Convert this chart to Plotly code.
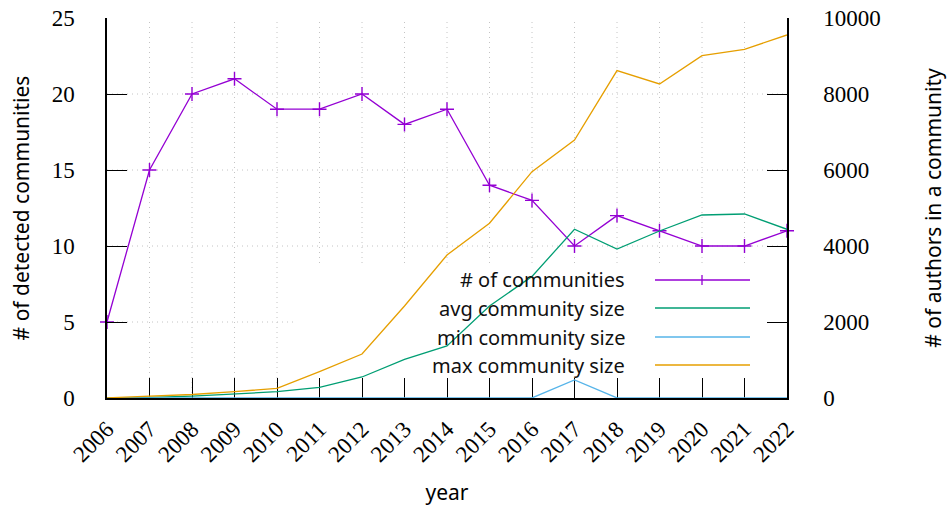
import plotly.graph_objects as go

years = [2006, 2007, 2008, 2009, 2010, 2011, 2012, 2013, 2014, 2015,
         2016, 2017, 2018, 2019, 2020, 2021, 2022]
num_communities = [5, 15, 20, 21, 19, 19, 20, 18, 19, 14, 13, 10, 12, 11, 10, 10, 11]
avg_size = [5, 15, 50, 105, 166, 282, 553, 1018, 1369, 2420, 3200,
            4440, 3920, 4395, 4816, 4842, 4440]
min_size = [1, 1, 1, 1, 1, 1, 1, 1, 1, 1, 1, 475, 1, 1, 1, 1, 1]
max_size = [5, 40, 92, 166, 255, 692, 1158, 2420, 3763, 4598, 5957,
            6790, 8616, 8264, 9010, 9177, 9554]

series_names = ["# of communities", "avg community size",
                "min community size", "max community size"]
series_colors = ["#9400D3", "#009E73", "#56B4E9", "#E69F00"]

left_ticks = [0, 5, 10, 15, 20, 25]
right_ticks = [0, 2000, 4000, 6000, 8000, 10000]
right_tick_labels = ["0", "2000", "4000", "6000", "8000", "10000"]

SERIF = "Liberation Serif"
SANS = "Noto Sans"
GRID = "#c4c4c4"

fig = go.Figure()
fig.add_trace(go.Scatter(
    x=years, y=num_communities, name=series_names[0], mode="lines+markers",
    line=dict(color=series_colors[0], width=1.3), cliponaxis=False,
    marker=dict(symbol="cross-thin", size=10, line=dict(color=series_colors[0], width=1.4)),
    yaxis="y"))
for name, vals, col in zip(series_names[1:], [avg_size, min_size, max_size], series_colors[1:]):
    fig.add_trace(go.Scatter(
        x=years, y=vals, name=name, mode="lines", cliponaxis=False,
        line=dict(color=col, width=1.3), yaxis="y2"))

# plot area in pixels
L, R, T, B = 107, 787, 18, 398
PW, PH = R - L, B - T

def px_x(x):
    return (x - L) / PW

def px_y(y):
    return (B - y) / PH

shapes = []
annotations = []
# dotted grid (drawn as shapes so the opaque key box can cover it)
for yr in years[1:-1]:
    shapes.append(dict(type="line", xref="x", yref="paper", x0=yr, x1=yr, y0=0, y1=1,
                       line=dict(color=GRID, width=1, dash="1px,4px"), layer="below"))
for v in left_ticks[1:-1]:
    shapes.append(dict(type="line", xref="paper", yref="y", x0=0, x1=1, y0=v, y1=v,
                       line=dict(color=GRID, width=1, dash="1px,4px"), layer="below"))
# opaque key box (covers grid, below traces)
shapes.append(dict(type="rect", xref="paper", yref="paper",
                   x0=px_x(295), x1=1.0, y0=0.0, y1=px_y(263),
                   fillcolor="white", line=dict(width=0), layer="below"))
rows = [280, 308, 337, 365]
for i, (name, col) in enumerate(zip(series_names, series_colors)):
    yy = px_y(rows[i])
    annotations.append(dict(text=name, xref="paper", yref="paper", x=px_x(627), y=yy,
                            xanchor="right", yanchor="middle", showarrow=False,
                            font=dict(family=SANS, size=20, color="#111")))
    shapes.append(dict(type="line", xref="paper", yref="paper",
                       x0=px_x(655), x1=px_x(750), y0=yy, y1=yy,
                       line=dict(color=col, width=1.3), layer="above"))
    if i == 0:
        shapes.append(dict(type="line", xref="paper", yref="paper",
                           x0=px_x(702), x1=px_x(702), y0=yy - 5 / PH, y1=yy + 5 / PH,
                           line=dict(color=col, width=1.3), layer="above"))

fig.update_layout(
    width=948, height=506,
    margin=dict(l=L, r=948 - R, t=T, b=506 - B, pad=0, autoexpand=False),
    paper_bgcolor="white", plot_bgcolor="white",
    showlegend=False,
    shapes=shapes, annotations=annotations,
    xaxis=dict(
        range=[2006, 2022], tickmode="array", tickvals=years,
        ticktext=[str(y) for y in years], tickangle=-45,
        ticks="inside", ticklen=20, tickwidth=1, tickcolor="black",
        showline=True, linecolor="black", linewidth=1.5, mirror=False,
        showgrid=False, zeroline=False, automargin=False, layer="below traces",
        tickfont=dict(family=SERIF, size=23, color="black"),
        ticklabelstandoff=7,
        title=dict(text="year", font=dict(family=SANS, size=21, color="black"), standoff=20),
    ),
    yaxis=dict(
        range=[0, 25], tickmode="array", tickvals=left_ticks,
        ticks="inside", ticklen=20, tickwidth=1, tickcolor="black",
        showline=True, linecolor="black", linewidth=1.5,
        showgrid=False, zeroline=False, automargin=False,
        tickfont=dict(family=SERIF, size=23, color="black"),
        ticklabelstandoff=26,
        title=dict(text="# of detected communities", font=dict(family=SANS, size=21, color="black"), standoff=16),
    ),
    yaxis2=dict(
        range=[0, 10000], tickmode="array", tickvals=right_ticks, ticktext=right_tick_labels,
        overlaying="y", side="right",
        ticks="inside", ticklen=20, tickwidth=1, tickcolor="black",
        showline=True, linecolor="black", linewidth=1.5,
        showgrid=False, zeroline=False, automargin=False,
        tickfont=dict(family=SERIF, size=23, color="black"),
        ticklabelstandoff=30,
        title=dict(text="# of authors in a community", font=dict(family=SANS, size=21, color="black"), standoff=46),
    ),
)

fig.write_html("out.html")
